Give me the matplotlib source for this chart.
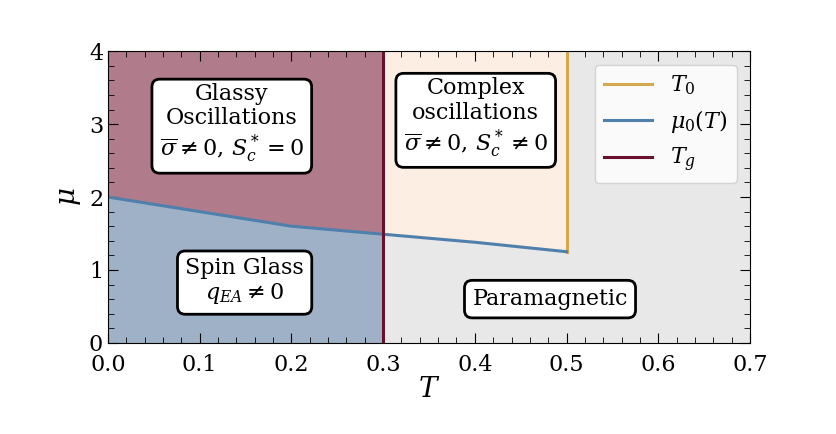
import numpy as np
import matplotlib
matplotlib.use('Agg')
import matplotlib.pyplot as plt
from matplotlib.ticker import AutoMinorLocator

plt.rcParams['font.family'] = 'DejaVu Serif'
plt.rcParams['mathtext.fontset'] = 'dejavuserif'

# mu_0(T) boundary
T_line = [0.0, 0.1, 0.2, 0.3, 0.4, 0.5]
mu0_line = [2.0, 1.8, 1.6, 1.49, 1.38, 1.25]
T_g = 0.3
T_0 = 0.5
mu_max = 4.0

T_arr = np.array(T_line)
mu_arr = np.array(mu0_line)
low = T_arr <= T_g
mid = (T_arr >= T_g) & (T_arr <= T_0)

fig, ax = plt.subplots(figsize=(8.37, 4.34), dpi=100)
fig.subplots_adjust(left=0.129, right=0.896, top=0.882, bottom=0.21)

ax.set_facecolor('#e8e8e8')
ax.fill_between(T_arr[low], mu_arr[low], mu_max, color='#b07b8b', lw=0)
ax.fill_between(T_arr[low], 0, mu_arr[low], color='#9fb1c7', lw=0)
ax.fill_between(T_arr[mid], mu_arr[mid], mu_max, color='#fdeee3', lw=0)

ax.plot([T_0, T_0], [mu_arr[-1], mu_max], color='#d4a84c', lw=2.2, label=r'$T_0$')
ax.plot(T_arr, mu_arr, color='#4f80ac', lw=2.2, label=r'$\mu_0(T)$')
ax.plot([T_g, T_g], [0, mu_max], color='#6a0f2c', lw=2.2, label=r'$T_g$')

box = dict(boxstyle='round,pad=0.35', facecolor='white', edgecolor='black', lw=2)
ax.text(0.135, 3.0, 'Glassy\nOscillations\n' + r'$\overline{\sigma}\neq 0,\, S_c^*=0$',
        ha='center', va='center', fontsize=16, bbox=box, linespacing=1.15)
ax.text(0.401, 3.08, 'Complex\noscillations\n' + r'$\overline{\sigma}\neq 0,\, S_c^*\neq 0$',
        ha='center', va='center', fontsize=16, bbox=box, linespacing=1.15)
ax.text(0.149, 0.84, 'Spin Glass\n' + r'$q_{EA}\neq 0$',
        ha='center', va='center', fontsize=16, bbox=box, linespacing=1.15)
ax.text(0.482, 0.6, 'Paramagnetic',
        ha='center', va='center', fontsize=16, bbox=box)

ax.set_xlim(0, 0.7)
ax.set_ylim(0, 4)
ax.set_xticks(np.arange(0, 0.71, 0.1))
ax.set_yticks([0, 1, 2, 3, 4])
ax.xaxis.set_minor_locator(AutoMinorLocator(5))
ax.yaxis.set_minor_locator(AutoMinorLocator(5))
ax.tick_params(which='both', direction='in', top=True, right=True, labelsize=16)
ax.tick_params(axis='x', pad=8)
ax.tick_params(which='major', length=7)
ax.tick_params(which='minor', length=4)
ax.set_xlabel(r'$T$', fontsize=20, labelpad=0)
ax.set_ylabel(r'$\mu$', fontsize=20)

ax.legend(loc='upper right', fontsize=16, framealpha=0.8, borderaxespad=0.6,
          handlelength=2.2)

fig.savefig('out.png')
